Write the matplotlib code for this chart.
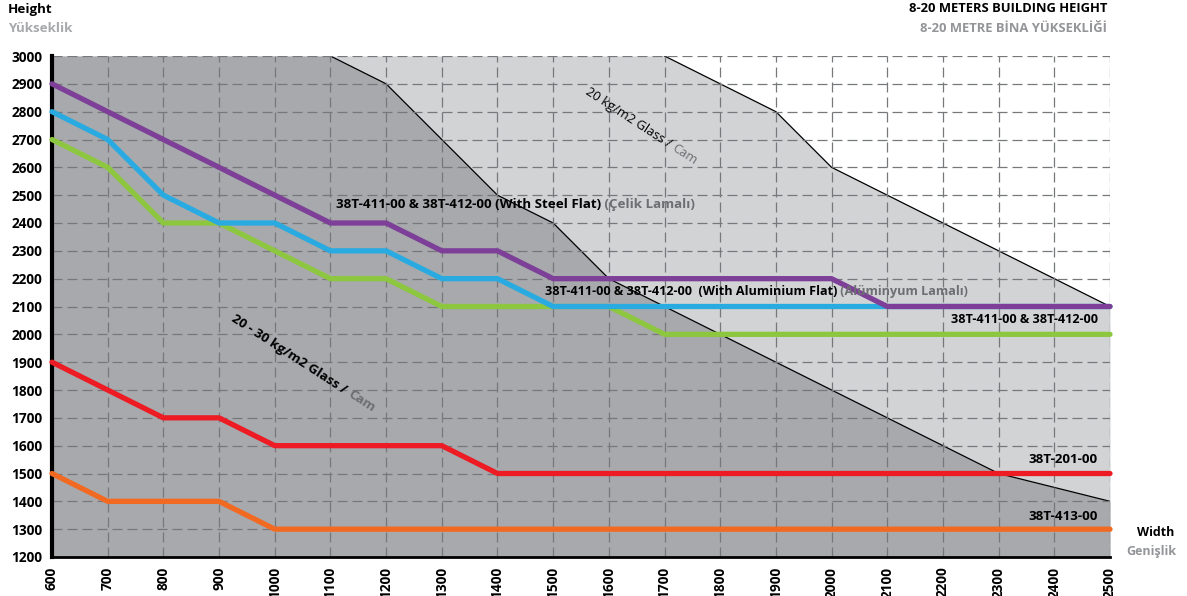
import numpy as np
import matplotlib
matplotlib.use("Agg")
import matplotlib.pyplot as plt

plt.rcParams['font.family'] = ['Open Sans', 'DejaVu Sans']

# widths (mm) and the allowed heights per profile
widths = np.arange(600, 2501, 100)
steel_flat = [2900, 2800, 2700, 2600, 2500, 2400, 2400, 2300, 2300, 2200,
              2200, 2200, 2200, 2200, 2200, 2100, 2100, 2100, 2100, 2100]
alu_flat = [2800, 2700, 2500, 2400, 2400, 2300, 2300, 2200, 2200, 2100,
            2100, 2100, 2100, 2100, 2100, 2100, 2100, 2100, 2100, 2100]
t411_412 = [2700, 2600, 2400, 2400, 2300, 2200, 2200, 2100, 2100, 2100,
            2100, 2000, 2000, 2000, 2000, 2000, 2000, 2000, 2000, 2000]
t201 = [1900, 1800, 1700, 1700, 1600, 1600, 1600, 1600, 1500, 1500,
        1500, 1500, 1500, 1500, 1500, 1500, 1500, 1500, 1500, 1500]
t413 = [1500, 1400, 1400, 1400, 1300, 1300, 1300, 1300, 1300, 1300,
        1300, 1300, 1300, 1300, 1300, 1300, 1300, 1300, 1300, 1300]

# glass weight limit areas
light_x = [600, 1700, 1800, 1900, 2000, 2500]
light_y = [3000, 3000, 2900, 2800, 2600, 2100]
dark_x = [600, 1100, 1200, 1400, 1500, 1600, 2300, 2500]
dark_y = [3000, 3000, 2900, 2500, 2400, 2200, 1500, 1400]

fig = plt.figure(figsize=(11.87, 5.96), dpi=100)
ax = fig.add_axes([52/1187, 1-557/596, 1058/1187, 501/596])

ax.fill_between(light_x, 1200, light_y, color='#d1d3d4', lw=0, zorder=0.5)
ax.fill_between(dark_x, 1200, dark_y, color='#a7a9ac', lw=0, zorder=0.6)
ax.plot(light_x[1:], light_y[1:], color='black', lw=0.9, zorder=0.7)
ax.plot(dark_x[1:], dark_y[1:], color='black', lw=0.9, zorder=0.7)

series = [(t413, '#f26a21'), (t201, '#ed1c24'), (t411_412, '#8dc63f'),
          (alu_flat, '#29abe2'), (steel_flat, '#7d3f98')]
for vals, col in series:
    ax.plot(widths, vals, color=col, lw=3.8, solid_capstyle='round',
            solid_joinstyle='round', clip_on=False, zorder=3)

ax.set_xlim(600, 2500)
ax.set_ylim(1200, 3000)
ax.set_xticks(widths)
ax.set_yticks(np.arange(1200, 3001, 100))
ax.set_axisbelow('line')
ax.grid(True, color='#77787b', lw=0.9, linestyle=(0, (8, 4)))
ax.tick_params(length=0, pad=7, labelsize=9.8)
plt.setp(ax.get_xticklabels(), rotation=90, fontweight='bold')
plt.setp(ax.get_yticklabels(), fontweight='bold')
ax.set_facecolor('white')
for s in ['top', 'right']:
    ax.spines[s].set_visible(False)
ax.spines['left'].set_linewidth(3)
ax.spines['bottom'].set_linewidth(2)

gray = '#6d6e71'
lbl = dict(fontsize=9.6, fontweight='bold', zorder=4)
lbl_s = dict(fontsize=9.1, fontweight='bold', zorder=4)

t = ax.text(1110, 2465, '38T-411-00 & 38T-412-00 (With Steel Flat)', va='center', **lbl)
ax.annotate(' (Çelik Lamalı)', xy=(1, 0.5), xycoords=t, va='center', color=gray, **lbl)
t = ax.text(1485, 2155, '38T-411-00 & 38T-412-00  (With Aluminium Flat)', va='center', **lbl_s)
ax.annotate(' (Alüminyum Lamalı)', xy=(1, 0.5), xycoords=t, va='center', color=gray, **lbl_s)
ax.text(2478, 2055, '38T-411-00 & 38T-412-00', ha='right', va='center', **lbl_s)
ax.text(2478, 1549, '38T-201-00', ha='right', va='center', **lbl)
ax.text(2478, 1347, '38T-413-00', ha='right', va='center', **lbl)

# rotated glass labels, gray "Cam" placed after the black part
renderer = fig.canvas.get_renderer()
def two_tone(x, y, black, grey, angle, size, weight):
    t1 = ax.text(x, y, black, rotation=angle, rotation_mode='anchor',
                 ha='left', va='center', fontsize=size, fontweight=weight, zorder=4)
    tmp = ax.text(0, 0, black, fontsize=size, fontweight=weight)
    w = tmp.get_window_extent(renderer).width
    tmp.remove()
    a = np.radians(angle)
    ax.annotate(grey, xy=(x, y), xytext=(w*np.cos(a), w*np.sin(a)),
                textcoords='offset pixels', rotation=angle, rotation_mode='anchor',
                ha='left', va='center', fontsize=size, fontweight=weight,
                color=gray, zorder=4)

two_tone(925, 2060, '20 - 30 kg/m2 Glass / ', 'Cam', -33, 9.6, 'bold')
two_tone(1560, 2875, '20 kg/m2 Glass / ', 'Cam', -33, 9.3, 'normal')

fig.text(8/1187, 1-10/596, 'Height', fontsize=9.6, fontweight='bold', va='center')
fig.text(8/1187, 1-28/596, 'Yükseklik', fontsize=9.6, fontweight='bold', va='center', color='#a7a9ac')
fig.text(1107/1187, 1-9/596, '8-20 METERS BUILDING HEIGHT', fontsize=9.4, fontweight='bold',
         va='center', ha='right')
fig.text(1107/1187, 1-29/596, '8-20 METRE BİNA YÜKSEKLİĞİ', fontsize=9.4, fontweight='bold',
         va='center', ha='right', color='#939598')
fig.text(1174/1187, 1-533/596, 'Width', fontsize=9, fontweight='bold', va='center', ha='right')
fig.text(1176/1187, 1-551/596, 'Genişlik', fontsize=9, fontweight='bold', va='center',
         ha='right', color='#939598')

fig.savefig('out.png', dpi=100)
